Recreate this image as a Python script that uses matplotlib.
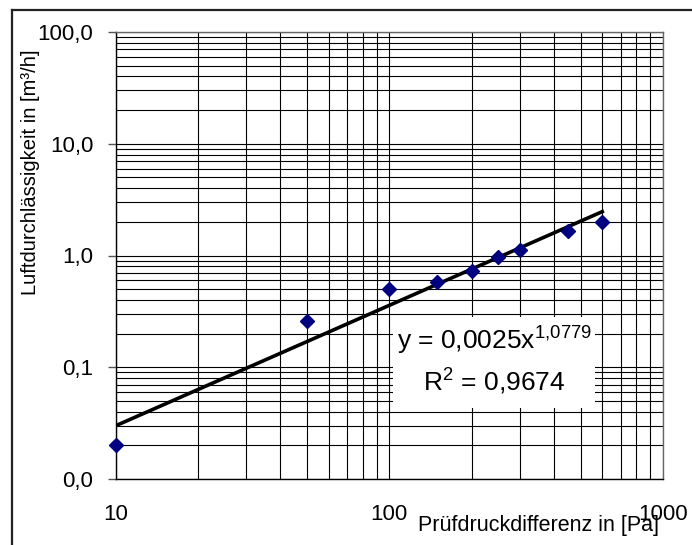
#!/usr/bin/env python3
# -*- coding: utf-8 -*-

import numpy as np
import matplotlib
matplotlib.use("Agg")
import matplotlib.pyplot as plt
from matplotlib.ticker import FixedLocator, LogLocator, NullFormatter, FixedFormatter
from matplotlib.lines import Line2D
from matplotlib.patches import Rectangle

plt.rcParams['font.family'] = ['Liberation Sans', 'DejaVu Sans']

# Messwerte
druck = [10, 50, 100, 150, 200, 250, 300, 450, 600]
volumenstrom = [0.020, 0.26, 0.50, 0.585, 0.72, 0.96, 1.13, 1.64, 1.98]

# Trendlinie (Potenz) wie im Diagramm angegeben
koeff_a = 0.0025
koeff_b = 1.0779
gleichung = "y = 0,0025x$^{\\mathregular{1{,}0779}}$"
bestimmtheit = "R$^{\\mathregular{2}}$ = 0,9674"

y_ticks = [0.01, 0.1, 1, 10, 100]
y_labels = ["0,0", "0,1", "1,0", "10,0", "100,0"]
x_ticks = [10, 100, 1000]
x_labels = ["10", "100", "1000"]

W, H = 692, 545

def fx(px):
    return px / W

def fy(py):
    return 1 - py / H

fig = plt.figure(figsize=(6.92, 5.45), dpi=100)
ax = fig.add_axes([fx(115.5), fy(479), fx(663) - fx(115.5), fy(32) - fy(479)])

ax.set_xscale('log')
ax.set_yscale('log')
ax.set_xlim(10, 1000)
ax.set_ylim(0.01, 100)

# Gitter
ax.xaxis.set_major_locator(FixedLocator(x_ticks))
ax.yaxis.set_major_locator(FixedLocator(y_ticks))
ax.xaxis.set_minor_locator(LogLocator(base=10, subs=np.arange(2, 10)))
ax.yaxis.set_minor_locator(LogLocator(base=10, subs=np.arange(2, 10)))
ax.xaxis.set_minor_formatter(NullFormatter())
ax.yaxis.set_minor_formatter(NullFormatter())
ax.xaxis.set_major_formatter(FixedFormatter(x_labels))
ax.yaxis.set_major_formatter(FixedFormatter(y_labels))
ax.grid(True, which='both', color='black', linewidth=0.8)
ax.set_axisbelow(True)

ax.tick_params(axis='y', which='major', direction='out', length=6, width=1,
               color='#555555', pad=10, labelsize=16)
ax.tick_params(axis='y', which='minor', length=0)
ax.tick_params(axis='x', which='both', length=0, pad=18, labelsize=16)

for s in ax.spines.values():
    s.set_color('black')
    s.set_linewidth(1.0)
ax.spines['right'].set_color('#666666')
ax.spines['top'].set_color('#666666')

# Trendlinie
xs = np.logspace(1, np.log10(600), 200)
ax.plot(xs, koeff_a * xs ** koeff_b, color='black', linewidth=2.6, zorder=3)

# Messpunkte
ax.plot(druck, volumenstrom, linestyle='none', marker='D', markersize=7.5,
        color='#000080', zorder=4, clip_on=False)

# Gleichung mit weissem Feld
fig.add_artist(Rectangle((fx(393), fy(408)), fx(595) - fx(393), fy(317) - fy(408),
                         transform=fig.transFigure, facecolor='white',
                         edgecolor='none', zorder=5))
fig.text(fx(494), fy(340), gleichung, ha='center', va='center', fontsize=19, zorder=6)
fig.text(fx(494), fy(381), bestimmtheit, ha='center', va='center', fontsize=19, zorder=6)

# Achsentitel
fig.text(fx(31), fy(172), "Luftdurchlässigkeit in [m³/h]", rotation=90,
         ha='center', va='center', fontsize=14.5)
fig.text(fx(539), fy(525), "Prüfdruckdifferenz in [Pa]", ha='center',
         va='center', fontsize=15.5)

# Rahmen
fig.add_artist(Line2D([fx(12), 1.0], [fy(10), fy(10)],
                      transform=fig.transFigure, color='#222222', linewidth=1.6))
fig.add_artist(Line2D([fx(12), fx(12)], [0, fy(10)],
                      transform=fig.transFigure, color='#222222', linewidth=1.6))

fig.savefig("out.png", dpi=100)
